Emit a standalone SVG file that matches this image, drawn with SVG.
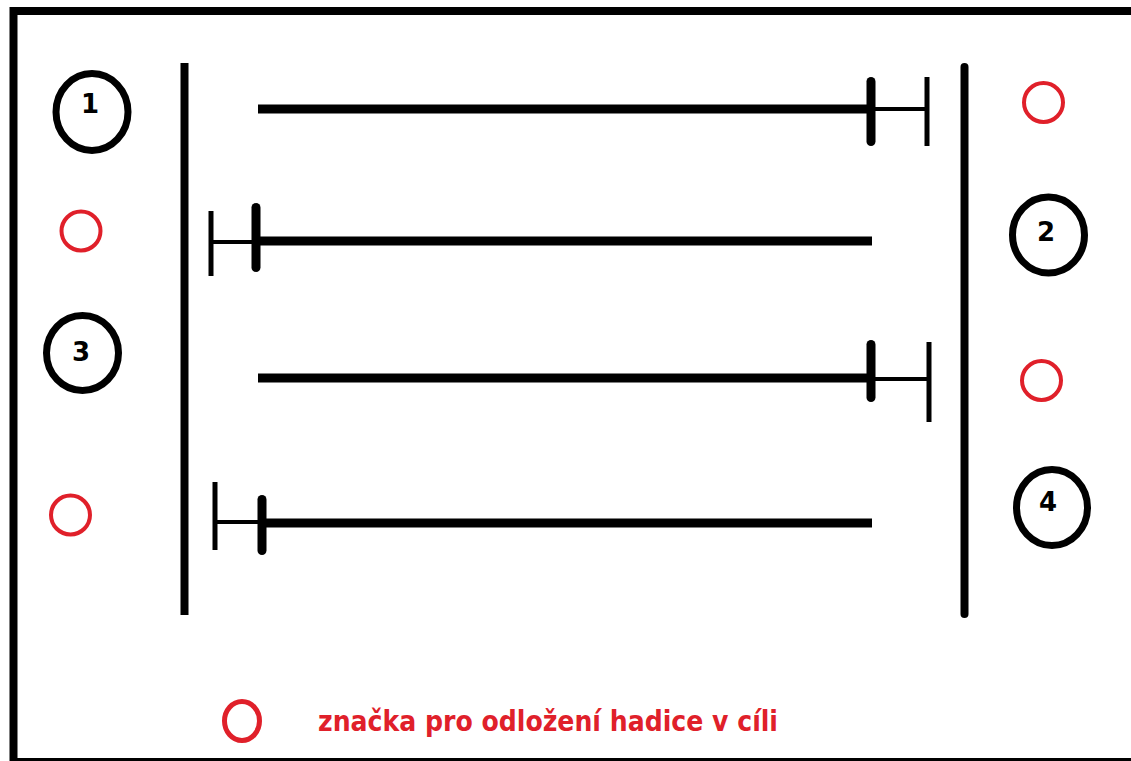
<svg xmlns="http://www.w3.org/2000/svg" width="1131" height="761" viewBox="0 0 1131 761">
<style>
.frame{fill:none;stroke:#000;stroke-width:8}
.wall{stroke:#000;stroke-width:8;fill:none}
.hose{stroke:#000;stroke-width:9;fill:none;stroke-linecap:butt}
.thin{stroke:#000;stroke-width:4;fill:none}
.stop{stroke:#000;stroke-width:5;fill:none}
.knot{stroke:#000;stroke-width:9;fill:none;stroke-linecap:round}
.num{fill:#fff;stroke:#000;stroke-width:7}
.numt{font-family:"DejaVu Sans",sans-serif;font-weight:bold;font-size:26px;fill:#000;text-anchor:middle}
.mark{fill:none;stroke:#e0202a;stroke-width:4}
.legend{font-family:"DejaVu Sans Condensed","DejaVu Sans",sans-serif;font-weight:bold;font-size:28px;fill:#e0202a}
</style>
<rect width="1131" height="761" fill="#fff"/>
<g id="frame">
<path class="frame" d="M1135 11 H13.5 V762 H1135"/>
</g>
<g id="walls">
<line class="wall" x1="184.5" y1="63" x2="184.5" y2="615"/>
<line class="wall" x1="964.5" y1="67" x2="964.5" y2="614" stroke-linecap="round"/>
</g>
<g id="connectors">
<g id="lane1">
<line class="hose" x1="258" y1="109" x2="871" y2="109"/>
<line class="thin" x1="871" y1="109" x2="927" y2="109"/>
<line class="knot" x1="871" y1="81.5" x2="871" y2="141.5"/>
<line class="stop" x1="927" y1="77" x2="927" y2="146"/>
</g>
<g id="lane2">
<line class="hose" x1="256" y1="241" x2="872" y2="241"/>
<line class="thin" x1="211" y1="242" x2="256" y2="242"/>
<line class="stop" x1="211" y1="211" x2="211" y2="276"/>
<line class="knot" x1="256" y1="207.5" x2="256" y2="267.5"/>
</g>
<g id="lane3">
<line class="hose" x1="258" y1="378" x2="871" y2="378"/>
<line class="thin" x1="871" y1="379" x2="929" y2="379"/>
<line class="knot" x1="871" y1="344.5" x2="871" y2="397.5"/>
<line class="stop" x1="929" y1="342" x2="929" y2="422"/>
</g>
<g id="lane4">
<line class="hose" x1="262" y1="523" x2="872" y2="523"/>
<line class="thin" x1="215" y1="522" x2="262" y2="522"/>
<line class="stop" x1="215" y1="482" x2="215" y2="550"/>
<line class="knot" x1="262" y1="499.5" x2="262" y2="550.5"/>
</g>
</g>
<g id="node1">
<ellipse class="num" cx="92" cy="112" rx="36" ry="38.5"/>
<text class="numt" x="90" y="113">1</text>
</g>
<g id="node2">
<ellipse class="num" cx="1048.5" cy="235" rx="36" ry="38"/>
<text class="numt" x="1046" y="241">2</text>
</g>
<g id="node3">
<ellipse class="num" cx="82.5" cy="353" rx="36" ry="37.5"/>
<text class="numt" x="81" y="361">3</text>
</g>
<g id="node4">
<ellipse class="num" cx="1052" cy="507.5" rx="35.5" ry="38"/>
<text class="numt" x="1048" y="511">4</text>
</g>
<g id="mark1"><circle class="mark" cx="1043.5" cy="102.5" r="19.5"/></g>
<g id="mark2"><circle class="mark" cx="81" cy="231" r="19.5"/></g>
<g id="mark3"><circle class="mark" cx="1041.5" cy="380.5" r="19.5"/></g>
<g id="mark4"><circle class="mark" cx="70.5" cy="515" r="19.5"/></g>
<g id="legend">
<ellipse cx="242" cy="721" rx="17.5" ry="19.5" fill="none" stroke="#e0202a" stroke-width="5"/>
<text class="legend" x="318" y="731" textLength="460" lengthAdjust="spacingAndGlyphs">značka pro odložení hadice v cíli</text>
</g>
</svg>
